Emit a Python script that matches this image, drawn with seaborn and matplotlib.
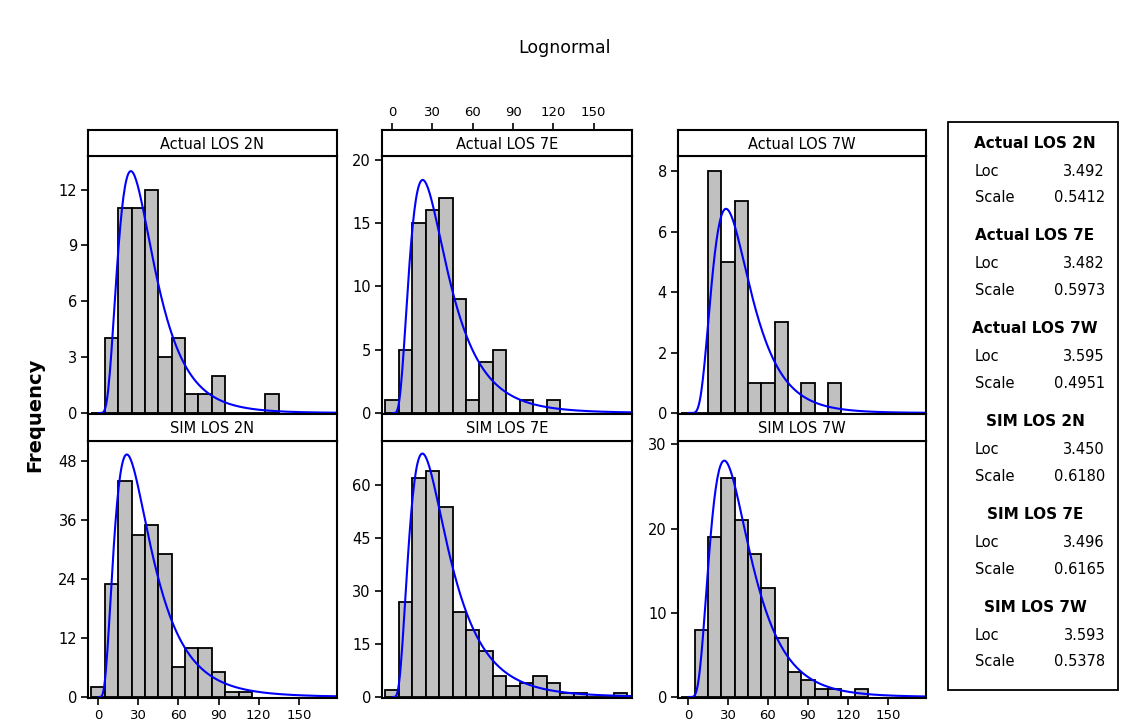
"""
Lognormal histogram panels - Actual vs SIM length of stay
Recreates the Minitab style 2x3 histogram grid with fitted curves
"""

import numpy as np
import pandas as pd
import matplotlib
matplotlib.use('Agg')
import matplotlib.pyplot as plt
from matplotlib.patches import Rectangle
import seaborn as sns

# Counts per bin, bins are 10 wide and centred on 0, 10, 20, ...
actual_2n = [0, 4, 11, 11, 12, 3, 4, 1, 1, 2, 0, 0, 0, 1]
actual_7e = [1, 5, 15, 16, 17, 9, 1, 4, 5, 0, 1, 0, 1]
actual_7w = [0, 0, 8, 5, 7, 1, 1, 3, 0, 1, 0, 1]
sim_2n = [2, 23, 44, 33, 35, 29, 6, 10, 10, 5, 1, 1]
sim_7e = [2, 27, 62, 64, 54, 24, 19, 13, 6, 3, 4, 6, 4, 1, 1, 0, 0, 1]
sim_7w = [0, 8, 19, 26, 21, 17, 13, 7, 3, 2, 1, 1, 0, 1]

panel_names = ['Actual LOS 2N', 'Actual LOS 7E', 'Actual LOS 7W',
               'SIM LOS 2N', 'SIM LOS 7E', 'SIM LOS 7W']
panel_counts = [actual_2n, actual_7e, actual_7w, sim_2n, sim_7e, sim_7w]

# fitted lognormal parameters (from the legend table)
loc_values = [3.492, 3.482, 3.595, 3.450, 3.496, 3.593]
scale_values = [0.5412, 0.5973, 0.4951, 0.6180, 0.6165, 0.5378]

y_ticks = [[0, 3, 6, 9, 12], [0, 5, 10, 15, 20], [0, 2, 4, 6, 8],
           [0, 12, 24, 36, 48], [0, 15, 30, 45, 60], [0, 10, 20, 30]]
y_tops = [13.8, 20.3, 8.5, 52.1, 72.6, 30.4]
x_ticks = [0, 30, 60, 90, 120, 150]

BIN_WIDTH = 10
X_MIN, X_MAX = -7.5, 178.5
W, H = 1128, 727

sns.set_style('white')
plt.rcParams['font.family'] = ['DejaVu Sans']
plt.rcParams['text.color'] = 'black'
plt.rcParams['xtick.color'] = 'black'
plt.rcParams['ytick.color'] = 'black'
plt.rcParams['axes.labelcolor'] = 'black'


def px_axes(fig, left, top, right, bottom):
    """Add axes using pixel coordinates measured from the top-left corner"""
    return fig.add_axes([left / W, 1 - bottom / H, (right - left) / W, (bottom - top) / H])


def lognormal_curve(xs, mu, sigma, n):
    """Expected count per bin for the fitted lognormal"""
    pdf = np.exp(-(np.log(xs) - mu) ** 2 / (2 * sigma ** 2)) / (xs * sigma * np.sqrt(2 * np.pi))
    return pdf * n * BIN_WIDTH


def draw_panel(fig, idx, col_px, row_px):
    left, right = col_px
    strip_top, strip_bot, plot_bot = row_px
    counts = panel_counts[idx]

    ax = px_axes(fig, left, strip_bot, right, plot_bot)
    df = pd.DataFrame({
        'center': np.arange(len(counts), dtype=float) * BIN_WIDTH,
        'count': np.array(counts, dtype=float),
    })
    edges = [i * BIN_WIDTH - BIN_WIDTH / 2 for i in range(len(counts) + 1)]
    sns.histplot(data=df, x='center', weights='count', bins=edges, ax=ax,
                 color='#C0C0C0', edgecolor='black', linewidth=1.3, alpha=1)

    xs = np.linspace(0.5, X_MAX, 300)
    ys = lognormal_curve(xs, loc_values[idx], scale_values[idx], sum(counts))
    sns.lineplot(x=xs, y=ys, ax=ax, color='#0000FF', linewidth=1.5)

    ax.set_xlim(X_MIN, X_MAX)
    ax.set_ylim(-0.004 * y_tops[idx], y_tops[idx])
    ax.set_yticks(y_ticks[idx])
    ax.set_xlabel('')
    ax.set_ylabel('')
    ax.tick_params(axis='y', direction='out', length=5, width=1.2,
                   labelsize=10.5, left=True, pad=3)
    if idx in (3, 5):
        ax.set_xticks(x_ticks)
        ax.tick_params(axis='x', direction='out', length=5, width=1.2,
                       labelsize=9.5, bottom=True, pad=3)
    else:
        ax.set_xticks([])
    for sp in ax.spines.values():
        sp.set_color('black')
        sp.set_linewidth(1.5)

    # strip with the panel name
    sax = px_axes(fig, left, strip_top, right, strip_bot)
    sax.set_xlim(X_MIN, X_MAX)
    sax.set_yticks([])
    sax.text(0.5, 0.45, panel_names[idx], transform=sax.transAxes,
             ha='center', va='center', fontsize=10.5)
    for sp in sax.spines.values():
        sp.set_color('black')
        sp.set_linewidth(1.5)
    if idx == 1:
        sax.xaxis.tick_top()
        sax.set_xticks(x_ticks)
        sax.tick_params(axis='x', direction='out', length=5, width=1.2,
                        labelsize=9.5, top=True, pad=3)
    else:
        sax.set_xticks([])


def draw_legend(fig):
    """Parameter table on the right"""
    box = Rectangle((948 / W, 1 - 690 / H), (1118 - 948) / W, (690 - 122) / H,
                    transform=fig.transFigure, fill=False, edgecolor='black', linewidth=1.3)
    fig.patches.append(box)
    for i, name in enumerate(panel_names):
        y0 = 143 + 92.8 * i
        fig.text(1035 / W, 1 - y0 / H, name, ha='center', va='center',
                 fontsize=11, fontweight='bold')
        fig.text(975 / W, 1 - (y0 + 28) / H, 'Loc', ha='left', va='center', fontsize=10.5)
        fig.text(1105 / W, 1 - (y0 + 28) / H, f'{loc_values[i]:.3f}',
                 ha='right', va='center', fontsize=10.5)
        fig.text(975 / W, 1 - (y0 + 55) / H, 'Scale', ha='left', va='center', fontsize=10.5)
        fig.text(1105 / W, 1 - (y0 + 55) / H, f'{scale_values[i]:.4f}',
                 ha='right', va='center', fontsize=10.5)


def main():
    fig = plt.figure(figsize=(W / 100, H / 100), dpi=100)
    fig.patch.set_facecolor('white')

    columns = [(88, 337), (382, 632), (678, 926)]
    rows = [(130, 156, 414), (414, 441, 698)]
    for idx in range(6):
        draw_panel(fig, idx, columns[idx % 3], rows[idx // 3])

    fig.text(564 / W, 1 - 48 / H, 'Lognormal', ha='center', va='center', fontsize=12.5)
    fig.text(35 / W, 1 - 415 / H, 'Frequency', ha='center', va='center',
             rotation=90, fontsize=14, fontweight='bold')
    draw_legend(fig)

    fig.savefig('out.png', dpi=100)
    plt.close(fig)


if __name__ == "__main__":
    main()
